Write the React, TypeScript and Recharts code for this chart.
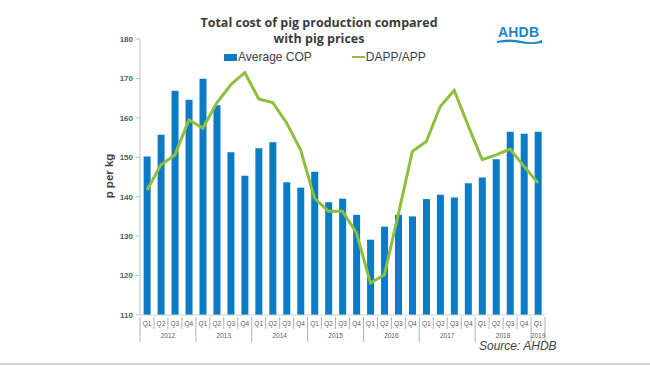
import React from 'react';
import { ComposedChart, Bar, Line, XAxis, YAxis } from 'recharts';

// Quarterly cost of production vs pig price, p per kg
const quarters = [
  'Q1', 'Q2', 'Q3', 'Q4',
  'Q1', 'Q2', 'Q3', 'Q4',
  'Q1', 'Q2', 'Q3', 'Q4',
  'Q1', 'Q2', 'Q3', 'Q4',
  'Q1', 'Q2', 'Q3', 'Q4',
  'Q1', 'Q2', 'Q3', 'Q4',
  'Q1', 'Q2', 'Q3', 'Q4',
  'Q1',
];
const years = ['2012', '2013', '2014', '2015', '2016', '2017', '2018', '2019'];

const averageCop = [
  150.2, 155.7, 166.9, 164.6,
  169.9, 163.2, 151.3, 145.3,
  152.3, 153.8, 143.7, 142.3,
  146.3, 138.6, 139.5, 135.4,
  129.1, 132.4, 135.4, 135.0,
  139.4, 140.5, 139.8, 143.4,
  144.9, 149.5, 156.5, 156.0,
  156.5,
];

const dappApp = [
  141.7, 148.1, 150.6, 159.5,
  157.4, 163.8, 168.4, 171.5,
  164.8, 163.9, 158.7, 151.9,
  139.6, 136.3, 136.3, 130.8,
  118.1, 120.2, 135.6, 151.5,
  154.0, 162.9, 167.0, 158.0,
  149.4, 150.6, 152.1, 147.7,
  143.5,
];

const yTicks = [110, 120, 130, 140, 150, 160, 170, 180];

const chartData = quarters.map((q, i) => ({
  key: `${years[Math.floor(i / 4)]} ${q}`,
  quarter: q,
  year: years[Math.floor(i / 4)],
  cop: averageCop[i],
  dapp: dappApp[i],
}));

const W = 650;
const H = 366;
const MARGIN = { top: 39, right: 105, bottom: 0, left: 0 };
const Y_AXIS_W = 140;
const BAND = (W - Y_AXIS_W - MARGIN.right) / chartData.length;

const gray = '#595959';
const sepColor = '#a6b4c6';
const blue = '#0a7bc4';
const green = '#8dbf3c';

const QuarterTick = (props: any) => {
  const { x, y, index } = props;
  const row = chartData[index];
  if (!row) return null;
  const qIndex = index % 4;
  const left = x - BAND / 2;
  const isLast = index === chartData.length - 1;
  const longLen = 25;
  const shortLen = 12;
  const yearsOnlyQ1 = isLast && qIndex === 0;
  return (
    <g>
      <line
        x1={left}
        x2={left}
        y1={y}
        y2={y + (qIndex === 0 ? longLen : shortLen)}
        stroke={sepColor}
        strokeWidth={1}
      />
      {isLast && (
        <line
          x1={left + BAND}
          x2={left + BAND}
          y1={y}
          y2={y + longLen}
          stroke={sepColor}
          strokeWidth={1}
        />
      )}
      <text
        x={x}
        y={y + 8.5}
        textAnchor="middle"
        fontSize={6.5}
        fontFamily="Liberation Sans, Arial, sans-serif"
        fill={gray}
      >
        {row.quarter}
      </text>
      {(qIndex === 1 || yearsOnlyQ1) && (
        <text
          x={yearsOnlyQ1 ? x : x + BAND / 2}
          y={y + 21}
          textAnchor="middle"
          fontSize={6.5}
          fontFamily="Liberation Sans, Arial, sans-serif"
          fill={gray}
        >
          {row.year}
        </text>
      )}
    </g>
  );
};

export default function App(): React.ReactElement {
  return (
    <div style={{ position: 'absolute', left: 0, top: 0, width: W, height: H, background: '#fff', overflow: 'hidden' }}>
      {/* Title */}
      <div
        style={{
          position: 'absolute',
          left: 0,
          width: 638,
          top: 15,
          textAlign: 'center',
          fontFamily: 'Open Sans, sans-serif',
          fontWeight: 700,
          fontSize: 12.5,
          lineHeight: '16px',
          color: '#3b3b3b',
        }}
      >
        Total cost of pig production compared
        <br />
        with pig prices
      </div>

      {/* AHDB logo */}
      <div
        style={{
          position: 'absolute',
          left: 498,
          top: 24,
          fontFamily: 'Liberation Sans, Arial, sans-serif',
          fontWeight: 700,
          fontSize: 14,
          color: '#1a86c8',
          letterSpacing: 0.2,
        }}
      >
        AHDB
      </div>
      <svg style={{ position: 'absolute', left: 496, top: 38 }} width={48} height={8}>
        <path d="M1 3 Q 14 0 26 3 T 46 2 L 46 5 Q 34 7 24 5 T 1 5 Z" fill="#1a86c8" />
      </svg>

      {/* Legend */}
      <div
        style={{
          position: 'absolute',
          left: 224,
          top: 50,
          display: 'flex',
          alignItems: 'center',
          fontFamily: 'Liberation Sans, Arial, sans-serif',
          fontSize: 12,
          color: '#404040',
          whiteSpace: 'nowrap',
        }}
      >
        <span style={{ display: 'inline-block', width: 13, height: 7, background: blue, marginRight: 1 }} />
        <span>Average COP</span>
        <span style={{ display: 'inline-block', width: 13, height: 2.5, background: green, marginLeft: 40, marginRight: 1 }} />
        <span>DAPP/APP</span>
      </div>

      {/* Y axis title */}
      <div
        style={{
          position: 'absolute',
          left: 109,
          top: 176,
          transform: 'translate(-50%, -50%) rotate(-90deg)',
          fontFamily: 'Liberation Sans, Arial, sans-serif',
          fontWeight: 700,
          fontSize: 11.5,
          color: '#404040',
          whiteSpace: 'nowrap',
        }}
      >
        p per kg
      </div>

      <ComposedChart width={W} height={H} data={chartData} margin={MARGIN} barCategoryGap="26%">
        <XAxis
          dataKey="key"
          interval={0}
          tickLine={false}
          tickSize={0}
          height={51}
          axisLine={{ stroke: '#d0d0d0' }}
          tick={<QuarterTick />}
        />
        <YAxis
          domain={[110, 180]}
          ticks={yTicks}
          width={Y_AXIS_W}
          tickSize={4}
          tickMargin={3}
          allowDataOverflow
          axisLine={{ stroke: '#bfbfbf' }}
          tickLine={{ stroke: '#bfbfbf' }}
          tick={{ fill: gray, fontSize: 8, fontWeight: 700, fontFamily: 'Liberation Sans, Arial, sans-serif' }}
        />
        <Bar dataKey="cop" name="Average COP" fill={blue} isAnimationActive={false} />
        <Line
          type="linear"
          dataKey="dapp"
          name="DAPP/APP"
          stroke={green}
          strokeWidth={3}
          dot={false}
          activeDot={false}
          isAnimationActive={false}
        />
      </ComposedChart>

      {/* Source */}
      <div
        style={{
          position: 'absolute',
          left: 479,
          top: 339,
          fontFamily: 'Liberation Sans, Arial, sans-serif',
          fontStyle: 'italic',
          fontSize: 12,
          lineHeight: '14px',
          color: '#404040',
        }}
      >
        Source: AHDB
      </div>

      {/* bottom rule */}
      <div style={{ position: 'absolute', left: 0, top: 363, width: W, height: 2, background: '#cfcfcf' }} />
    </div>
  );
}
